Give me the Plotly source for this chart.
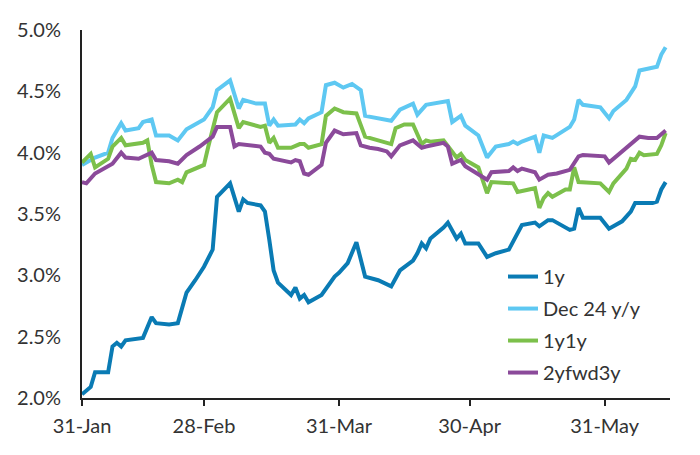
import plotly.graph_objects as go

# 1y inflation swap
dates_1y = ["2023-01-31", "2023-02-02", "2023-02-03", "2023-02-06", "2023-02-07", "2023-02-08",
            "2023-02-09", "2023-02-10", "2023-02-14", "2023-02-15", "2023-02-16", "2023-02-17",
            "2023-02-20", "2023-02-22", "2023-02-24", "2023-02-26", "2023-02-28", "2023-03-02",
            "2023-03-03", "2023-03-06", "2023-03-08", "2023-03-09", "2023-03-10", "2023-03-13",
            "2023-03-14", "2023-03-15", "2023-03-16", "2023-03-17", "2023-03-20", "2023-03-21",
            "2023-03-22", "2023-03-23", "2023-03-24", "2023-03-27", "2023-03-30", "2023-03-31",
            "2023-04-02", "2023-04-04", "2023-04-06", "2023-04-09", "2023-04-12", "2023-04-14",
            "2023-04-17", "2023-04-18", "2023-04-19", "2023-04-20", "2023-04-21", "2023-04-24",
            "2023-04-25", "2023-04-27", "2023-04-28", "2023-04-29", "2023-05-02", "2023-05-04",
            "2023-05-06", "2023-05-09", "2023-05-11", "2023-05-12", "2023-05-15", "2023-05-16",
            "2023-05-18", "2023-05-19", "2023-05-23", "2023-05-24", "2023-05-25", "2023-05-26",
            "2023-05-30", "2023-06-01", "2023-06-04", "2023-06-06", "2023-06-07", "2023-06-11",
            "2023-06-12", "2023-06-13", "2023-06-14"]
vals_1y = [2.03, 2.09, 2.21, 2.21, 2.42, 2.45, 2.42, 2.47, 2.49, 2.58, 2.66, 2.61,
           2.60, 2.61, 2.86, 2.96, 3.07, 3.21, 3.64, 3.75, 3.52, 3.62, 3.59, 3.57,
           3.52, 3.29, 3.04, 2.94, 2.84, 2.90, 2.81, 2.84, 2.78, 2.84, 2.99, 3.02,
           3.10, 3.27, 2.99, 2.96, 2.91, 3.04, 3.12, 3.18, 3.26, 3.22, 3.30, 3.39,
           3.43, 3.30, 3.34, 3.26, 3.26, 3.15, 3.18, 3.21, 3.35, 3.41, 3.43, 3.40,
           3.45, 3.45, 3.37, 3.38, 3.55, 3.47, 3.47, 3.38, 3.44, 3.52, 3.59, 3.59,
           3.60, 3.70, 3.76]

# Dec 24 y/y
dates_dec24 = ["2023-01-31", "2023-02-03", "2023-02-06", "2023-02-07", "2023-02-09", "2023-02-10",
               "2023-02-13", "2023-02-14", "2023-02-16", "2023-02-17", "2023-02-20", "2023-02-22",
               "2023-02-24", "2023-02-28", "2023-03-02", "2023-03-03", "2023-03-06", "2023-03-08",
               "2023-03-09", "2023-03-12", "2023-03-14", "2023-03-15", "2023-03-16", "2023-03-17",
               "2023-03-21", "2023-03-22", "2023-03-23", "2023-03-24", "2023-03-27", "2023-03-28",
               "2023-03-30", "2023-04-01", "2023-04-03", "2023-04-05", "2023-04-06", "2023-04-09",
               "2023-04-12", "2023-04-14", "2023-04-17", "2023-04-18", "2023-04-20", "2023-04-25",
               "2023-04-26", "2023-04-28", "2023-04-29", "2023-05-02", "2023-05-04", "2023-05-06",
               "2023-05-09", "2023-05-10", "2023-05-11", "2023-05-12", "2023-05-15", "2023-05-16",
               "2023-05-17", "2023-05-19", "2023-05-23", "2023-05-24", "2023-05-25", "2023-05-26",
               "2023-05-30", "2023-06-01", "2023-06-02", "2023-06-05", "2023-06-07", "2023-06-08",
               "2023-06-11", "2023-06-12", "2023-06-13", "2023-06-14"]
vals_dec24 = [3.90, 3.96, 4.00, 4.12, 4.24, 4.18, 4.20, 4.25, 4.27, 4.14, 4.14, 4.10,
              4.19, 4.27, 4.37, 4.51, 4.59, 4.36, 4.43, 4.40, 4.40, 4.22, 4.27, 4.22,
              4.23, 4.27, 4.24, 4.28, 4.33, 4.55, 4.57, 4.53, 4.56, 4.51, 4.30, 4.28,
              4.26, 4.35, 4.40, 4.31, 4.39, 4.42, 4.25, 4.30, 4.22, 4.14, 3.96, 4.05,
              4.07, 4.09, 4.07, 4.09, 4.13, 4.00, 4.14, 4.12, 4.21, 4.27, 4.43, 4.39,
              4.37, 4.28, 4.34, 4.43, 4.54, 4.67, 4.69, 4.70, 4.80, 4.86]

# 1y1y
dates_1y1y = ["2023-01-31", "2023-02-01", "2023-02-02", "2023-02-03", "2023-02-06", "2023-02-07",
              "2023-02-09", "2023-02-10", "2023-02-14", "2023-02-15", "2023-02-16", "2023-02-17",
              "2023-02-20", "2023-02-22", "2023-02-23", "2023-02-24", "2023-02-28", "2023-03-01",
              "2023-03-03", "2023-03-06", "2023-03-08", "2023-03-09", "2023-03-13", "2023-03-14",
              "2023-03-15", "2023-03-16", "2023-03-17", "2023-03-20", "2023-03-22", "2023-03-23",
              "2023-03-24", "2023-03-27", "2023-03-28", "2023-03-30", "2023-04-01", "2023-04-04",
              "2023-04-06", "2023-04-09", "2023-04-12", "2023-04-13", "2023-04-15", "2023-04-17",
              "2023-04-19", "2023-04-20", "2023-04-21", "2023-04-24", "2023-04-27", "2023-04-28",
              "2023-04-29", "2023-05-02", "2023-05-03", "2023-05-04", "2023-05-05", "2023-05-10",
              "2023-05-11", "2023-05-15", "2023-05-16", "2023-05-17", "2023-05-18", "2023-05-19",
              "2023-05-22", "2023-05-23", "2023-05-24", "2023-05-25", "2023-05-30", "2023-06-01",
              "2023-06-02", "2023-06-05", "2023-06-06", "2023-06-07", "2023-06-08", "2023-06-09",
              "2023-06-12", "2023-06-13", "2023-06-14"]
vals_1y1y = [3.92, 3.95, 3.99, 3.88, 3.95, 4.05, 4.12, 4.06, 4.08, 4.10, 3.90, 3.76,
             3.75, 3.78, 3.76, 3.84, 3.90, 4.05, 4.33, 4.44, 4.20, 4.25, 4.21, 4.22,
             4.08, 4.12, 4.04, 4.04, 4.07, 4.07, 4.04, 4.07, 4.30, 4.36, 4.33, 4.32,
             4.13, 4.10, 4.07, 4.20, 4.23, 4.23, 4.07, 4.10, 4.09, 4.10, 3.96, 3.99,
             3.94, 3.88, 3.78, 3.67, 3.76, 3.75, 3.68, 3.71, 3.55, 3.63, 3.67, 3.64,
             3.70, 3.70, 3.88, 3.76, 3.75, 3.68, 3.75, 3.87, 3.95, 3.94, 4.00, 3.98,
             3.99, 4.06, 4.16]

# 2yfwd3y
dates_2y3y = ["2023-01-31", "2023-02-01", "2023-02-03", "2023-02-05", "2023-02-07", "2023-02-09",
              "2023-02-10", "2023-02-13", "2023-02-15", "2023-02-16", "2023-02-17", "2023-02-20",
              "2023-02-22", "2023-02-24", "2023-02-27", "2023-03-02", "2023-03-03", "2023-03-06",
              "2023-03-07", "2023-03-08", "2023-03-13", "2023-03-14", "2023-03-15", "2023-03-16",
              "2023-03-20", "2023-03-21", "2023-03-22", "2023-03-23", "2023-03-24", "2023-03-27",
              "2023-03-28", "2023-03-30", "2023-04-01", "2023-04-04", "2023-04-05", "2023-04-07",
              "2023-04-09", "2023-04-11", "2023-04-12", "2023-04-14", "2023-04-17", "2023-04-19",
              "2023-04-20", "2023-04-24", "2023-04-25", "2023-04-26", "2023-04-28", "2023-04-29",
              "2023-05-04", "2023-05-05", "2023-05-09", "2023-05-10", "2023-05-11", "2023-05-12",
              "2023-05-15", "2023-05-16", "2023-05-18", "2023-05-20", "2023-05-23", "2023-05-25",
              "2023-05-26", "2023-05-31", "2023-06-01", "2023-06-03", "2023-06-06", "2023-06-08",
              "2023-06-10", "2023-06-12", "2023-06-14"]
vals_2y3y = [3.76, 3.75, 3.83, 3.87, 3.91, 4.00, 3.96, 3.95, 3.98, 4.00, 3.94, 3.93,
             3.91, 3.98, 4.05, 4.13, 4.21, 4.21, 4.05, 4.07, 4.05, 4.00, 3.99, 3.95,
             3.92, 3.94, 3.93, 3.83, 3.82, 3.90, 4.08, 4.18, 4.15, 4.16, 4.06, 4.04,
             4.03, 4.01, 3.97, 4.06, 4.10, 4.04, 4.05, 4.08, 4.05, 3.91, 3.94, 3.89,
             3.78, 3.84, 3.85, 3.88, 3.85, 3.87, 3.84, 3.78, 3.82, 3.83, 3.86, 3.97,
             3.98, 3.97, 3.92, 3.98, 4.06, 4.13, 4.12, 4.12, 4.18]

tick_dates = ["2023-01-31", "2023-02-28", "2023-03-31", "2023-04-30", "2023-05-31"]
tick_labels = ["31-Jan", "28-Feb", "31-Mar", "30-Apr", "31-May"]
y_ticks = [2.0, 2.5, 3.0, 3.5, 4.0, 4.5, 5.0]

series = [
    ("1y", dates_1y, vals_1y, "#0a7bb4"),
    ("Dec 24 y/y", dates_dec24, vals_dec24, "#5ec8f2"),
    ("1y1y", dates_1y1y, vals_1y1y, "#7cc04b"),
    ("2yfwd3y", dates_2y3y, vals_2y3y, "#8b4a9a"),
]

fig = go.Figure()
for name, xs, ys, color in series:
    fig.add_trace(go.Scatter(x=xs, y=ys, name=name, mode="lines", legendgroup=name,
                             line=dict(color=color, width=4)))

font = dict(family="Lato, 'Open Sans', sans-serif", size=20, color="#333333")

# the page body adds an 8px offset, so margins are shifted to compensate
fig.update_layout(
    width=700, height=455,
    margin=dict(l=74, r=38, t=22, b=65),
    plot_bgcolor="white", paper_bgcolor="white",
    font=font,
    showlegend=True,
    legend=dict(x=0.716, y=0.383, xanchor="left", yanchor="top",
                bgcolor="rgba(0,0,0,0)", tracegroupgap=3, font=font),
    xaxis=dict(range=["2023-01-31", "2023-06-15"], tickvals=tick_dates, ticktext=tick_labels,
               showgrid=False, zeroline=False, showline=True, linecolor="#222222", linewidth=2,
               ticks="outside", ticklen=6, tickwidth=2, tickcolor="#222222",
               ticklabelstandoff=3, automargin=False),
    yaxis=dict(range=[2.0, 5.0], tickvals=y_ticks, ticktext=[f"{v:.1f}%" for v in y_ticks],
               showgrid=False, zeroline=False, showline=True, linecolor="#222222", linewidth=2,
               ticks="", ticklabelstandoff=15, automargin=False),
)

fig.write_html("out.html")
